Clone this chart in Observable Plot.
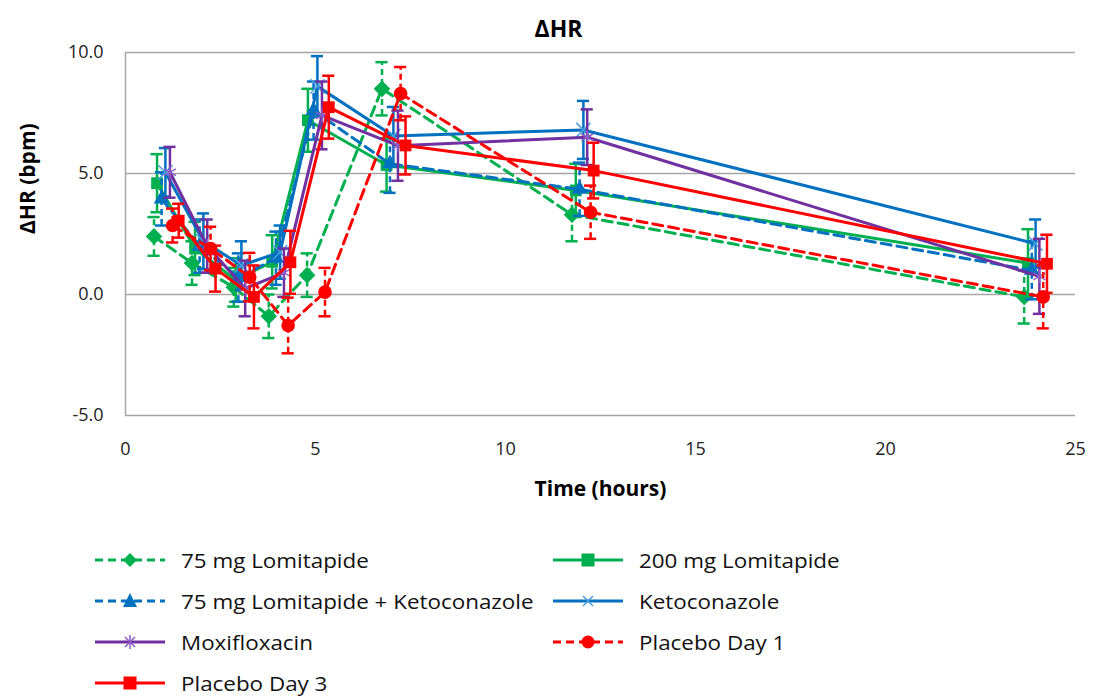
<!DOCTYPE html>
<html><head><meta charset="utf-8">
<script src="https://cdn.jsdelivr.net/npm/d3@7"></script>
<script src="https://cdn.jsdelivr.net/npm/@observablehq/plot@0.6"></script>
<style>
body{margin:0;background:#fff;font-family:"Open Sans",sans-serif;width:1095px;height:696px;position:relative;overflow:hidden;}
#chart{position:absolute;left:0;top:0;}
.item{position:absolute;display:flex;align-items:center;font-size:20px;color:#111;white-space:nowrap;height:30px;}
.item svg{margin-right:16px;flex:none;}
.item span{display:inline-block;transform:scaleX(1.12);transform-origin:left center;}
</style></head><body><div id="chart"></div><div id="legend"></div>
<script>
const seriesNames = ["75 mg Lomitapide","200 mg Lomitapide","75 mg Lomitapide + Ketoconazole","Ketoconazole","Moxifloxacin","Placebo Day 1","Placebo Day 3"];
const seriesColors = ["#00b050","#00b050","#0070c0","#0070c0","#7030a0","#ff0000","#ff0000"];
const markerColors = ["#00b050","#00b050","#0070c0","#4a9ee0","#8f5cc4","#ff0000","#ff0000"];
const seriesDashed = [true,false,true,false,false,true,false];
const seriesSymbols = ["diamond2","square2","triangle2","times","asterisk","circle","square2"];

// time (hours) of each plotted point
const timeLomi75   = [0.75,1.75,2.85,3.77,4.78,6.75,11.75,23.65];
const timeLomi200  = [0.83,1.83,2.90,3.86,4.80,6.87,11.85,23.75];
const timeLomiKeto = [0.95,1.95,2.97,3.96,4.95,6.96,11.95,23.85];
const timeKeto     = [1.05,2.05,3.05,4.07,5.05,7.05,12.05,23.95];
const timeMoxi     = [1.17,2.15,3.15,4.17,5.17,7.17,12.15,24.05];
const timePbo1     = [1.24,2.24,3.27,4.28,5.25,7.24,12.24,24.15];
const timePbo3     = [1.40,2.37,3.38,4.34,5.35,7.37,12.32,24.25];

// mean ΔHR (bpm)
const hrLomi75   = [2.4,1.3,0.3,-0.9,0.8,8.5,3.3,-0.1];
const hrLomi200  = [4.6,1.9,0.6,1.35,7.2,5.35,4.3,1.3];
const hrLomiKeto = [3.95,2.0,0.7,1.5,7.6,5.4,4.35,1.0];
const hrKeto     = [5.05,2.2,1.2,1.75,8.6,6.55,6.8,2.1];
const hrMoxi     = [5.05,2.0,0.25,0.9,7.4,6.15,6.5,0.75];
const hrPbo1     = [2.85,1.9,0.72,-1.28,0.1,8.3,3.4,-0.1];
const hrPbo3     = [3.05,1.07,-0.1,1.33,7.74,6.16,5.12,1.27];

// error bar half-lengths (bpm)
const errLomi75   = [0.8,0.9,0.8,0.9,0.9,1.1,1.1,1.1];
const errLomi200  = [1.2,1.1,0.9,1.1,1.3,1.1,1.1,1.4];
const errLomiKeto = [1.1,1.1,1.0,1.1,1.2,1.2,1.1,1.2];
const errKeto     = [1.0,1.15,1.0,1.1,1.25,1.2,1.2,1.0];
const errMoxi     = [1.05,1.1,1.15,1.0,1.4,1.45,1.15,1.55];
const errPbo1     = [0.7,0.9,1.0,1.15,1.0,1.1,1.1,1.3];
const errPbo3     = [0.7,0.95,1.3,1.3,1.3,1.2,1.15,1.2];

const yTicks = [-5,0,5,10];
const xTicks = [0,5,10,15,20,25];
const chartTitle = "ΔHR";
const xLabel = "Time (hours)";
const yLabel = "ΔHR (bpm)";

const allTimes = [timeLomi75,timeLomi200,timeLomiKeto,timeKeto,timeMoxi,timePbo1,timePbo3];
const allHr = [hrLomi75,hrLomi200,hrLomiKeto,hrKeto,hrMoxi,hrPbo1,hrPbo3];
const allErr = [errLomi75,errLomi200,errLomiKeto,errKeto,errMoxi,errPbo1,errPbo3];

const grid = "#a6a6a6";
const capHalf = 0.16;
const symR = {diamond2:7.5,square2:7.5,triangle2:7.5,times:6.5,asterisk:6.5,circle:6.8};
const seriesMarks = [];
seriesNames.forEach((name,i)=>{
  const rows = allTimes[i].map((t,j)=>({series:name,t,v:allHr[i][j],e:allErr[i][j]}));
  const c = seriesColors[i];
  const dash = seriesDashed[i] ? "10,6" : null;
  const edash = seriesDashed[i] ? "6,4" : null;
  const s = seriesSymbols[i];
  seriesMarks.push(
    Plot.ruleX(rows,{x:"t",y1:d=>d.v-d.e,y2:d=>d.v+d.e,stroke:c,strokeWidth:2.5,strokeDasharray:edash}),
    Plot.ruleY(rows,{y:d=>d.v+d.e,x1:d=>d.t-capHalf,x2:d=>d.t+capHalf,stroke:c,strokeWidth:2.5}),
    Plot.ruleY(rows,{y:d=>d.v-d.e,x1:d=>d.t-capHalf,x2:d=>d.t+capHalf,stroke:c,strokeWidth:2.5}),
    Plot.line(rows,{x:"t",y:"v",stroke:c,strokeWidth:3,strokeDasharray:dash}),
    (s==="times"||s==="asterisk")
      ? Plot.dot(rows,{x:"t",y:"v",symbol:s,r:symR[s],stroke:markerColors[i],strokeWidth:1.5,fill:"none"})
      : Plot.dot(rows,{x:"t",y:"v",symbol:s,r:symR[s],fill:markerColors[i],stroke:"none"})
  );
});

const chart = Plot.plot({
  width:1095, height:530,
  marginLeft:125, marginRight:20, marginTop:52, marginBottom:115,
  style:{fontFamily:"'Open Sans',sans-serif",background:"#fff",overflow:"visible"},
  x:{domain:[0,25]},
  y:{domain:[-5,10]},
  marks:[
    Plot.ruleY([0,5,10],{stroke:grid,strokeWidth:1.5}),
    Plot.ruleY([-5],{stroke:grid,strokeWidth:1.5}),
    Plot.ruleX([0],{stroke:grid,strokeWidth:1.5}),
    Plot.axisY({ticks:yTicks,tickSize:0,tickPadding:22,tickFormat:d=>d.toFixed(1),label:null,fontSize:18,fill:"#222"}),
    Plot.axisX({ticks:xTicks,tickSize:0,tickPadding:27,label:null,fontSize:18,fill:"#222"}),
    ...seriesMarks,
    Plot.text([chartTitle],{frameAnchor:"top",dx:-42,dy:-32,fontSize:23,fontWeight:"bold"}),
    Plot.text([xLabel],{frameAnchor:"bottom",dy:80,fontSize:21,fontWeight:"bold"}),
    Plot.text([yLabel],{frameAnchor:"left",dx:-97,rotate:-90,fontSize:21,fontWeight:"bold"})
  ]
});
document.getElementById("chart").append(chart);

// legend
const legendPos = [[95,545],[553,545],[95,586],[553,586],[95,627],[553,627],[95,668]];
const symPath = {
  diamond2: (c)=>`<path d="M35,3 L42,10 L35,17 L28,10Z" fill="${c}"/>`,
  square2: (c)=>`<rect x="28.5" y="3.5" width="13" height="13" fill="${c}"/>`,
  triangle2: (c)=>`<path d="M35,2 L42,16 L28,16Z" fill="${c}"/>`,
  times: (c)=>`<path d="M30,5 L40,15 M40,5 L30,15" stroke="${c}" stroke-width="1.5"/>`,
  asterisk: (c)=>`<path d="M30,5 L40,15 M40,5 L30,15 M35,3 L35,17" stroke="${c}" stroke-width="1.5"/>`,
  circle: (c)=>`<circle cx="35" cy="10" r="6.5" fill="${c}"/>`
};
const leg = document.getElementById("legend");
seriesNames.forEach((name,i)=>{
  const [x,y] = legendPos[i];
  const d = document.createElement("div");
  d.className="item"; d.style.left=x+"px"; d.style.top=y+"px";
  const dash = seriesDashed[i] ? 'stroke-dasharray="8,5"' : '';
  d.innerHTML = `<svg width="70" height="20"><line x1="0" y1="10" x2="70" y2="10" stroke="${seriesColors[i]}" stroke-width="3" ${dash}/>${symPath[seriesSymbols[i]](markerColors[i])}</svg><span>${name}</span>`;
  leg.append(d);
});
</script>
</body></html>
